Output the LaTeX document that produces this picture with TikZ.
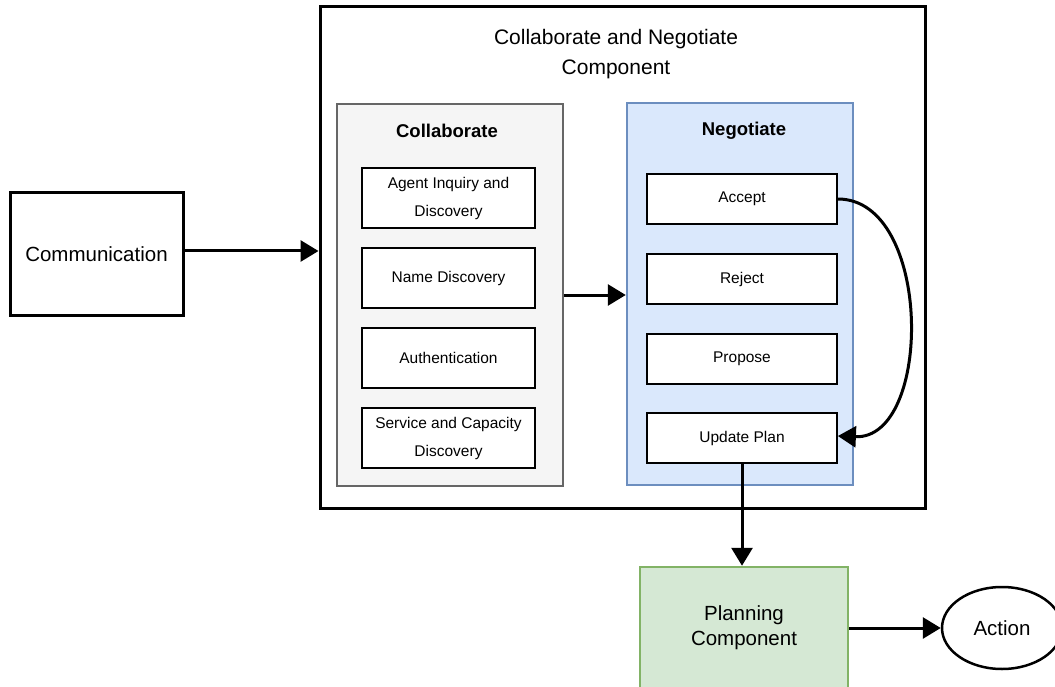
\documentclass[tikz,border=0pt]{standalone}
\usepackage{fontspec}
\setmainfont{Liberation Sans}
\usetikzlibrary{arrows.meta,shapes.geometric}
\definecolor{collabfill}{HTML}{F5F5F5}
\definecolor{collabdraw}{HTML}{666666}
\definecolor{negfill}{HTML}{DAE8FC}
\definecolor{negdraw}{HTML}{6C8EBF}
\definecolor{planfill}{HTML}{D5E8D4}
\definecolor{plandraw}{HTML}{82B366}
\definecolor{ink}{HTML}{1A1A1A}
\tikzset{
  box/.style={draw, rectangle, inner sep=0pt, align=center},
  item/.style={box, fill=white, line width=1.8pt, minimum width=173pt, minimum height=60pt,
    font=\fontsize{15.5}{28}\selectfont},
  negitem/.style={box, fill=white, line width=1.8pt, minimum width=190pt, minimum height=50pt,
    font=\fontsize{15.5}{28}\selectfont},
  big/.style={font=\fontsize{20.5}{25}\selectfont},
  grouptitle/.style={font=\bfseries\fontsize{18.5}{22}\selectfont},
  conn/.style={line width=3pt, -{Triangle[length=18pt,width=21pt]}},
}
\begin{document}
\begin{tikzpicture}[x=1pt,y=-1pt]
\useasboundingbox (0,0) rectangle (1055,687);
% outer component
\node[box, line width=3pt, minimum width=605pt, minimum height=501pt] (outer) at (622.5,257.5) {};
\node[align=center, font=\fontsize{21}{30}\selectfont] (title) at (616,54) {Collaborate and Negotiate\\Component};
% collaborate group
\node[box, fill=collabfill, draw=collabdraw, line width=2.5pt, minimum width=226pt, minimum height=382pt] (collab) at (450,295) {};
\node[grouptitle] (collabT) at (447,131) {Collaborate};
\node[item] (agent) at (448.5,198) {Agent Inquiry and\\Discovery};
\node[item] (name) at (448.5,278) {Name Discovery};
\node[item] (auth) at (448.5,358) {Authentication};
\node[item] (serv) at (448.5,438) {Service and Capacity\\Discovery};
% negotiate group
\node[box, fill=negfill, draw=negdraw, line width=2.5pt, minimum width=226pt, minimum height=382pt] (neg) at (740,294) {};
\node[grouptitle] (negT) at (744,131) {Negotiate};
\node[negitem] (acc) at (742,199) {Accept};
\node[negitem] (rej) at (742,279) {Reject};
\node[negitem] (prop) at (742,359) {Propose};
\node[negitem] (upd) at (742,438) {Update Plan};
% external
\node[box, line width=3pt, minimum width=173pt, minimum height=122pt, big] (comm) at (96.5,254) {Communication};
\node[box, fill=planfill, draw=plandraw, line width=2.5pt, minimum width=208pt, minimum height=122pt, big] (plan) at (744,628) {Planning\\Component};
\node[draw, ellipse, line width=2.5pt, inner sep=0pt, minimum width=120pt, minimum height=82pt, big] (act) at (1002,628) {Action};
% connectors
\draw[conn] ([yshift=3pt]comm.east) -- ([yshift=3pt]comm.east -| outer.west);
\draw[conn] (collab.east) -- (collab.east -| neg.west);
\draw[conn] (acc.east) .. controls (933,199) and (933,440) .. ([yshift=2pt]upd.east);
\draw[conn] (upd.south) -- (upd.south |- plan.north);
\draw[conn] (plan.east) -- (act.west);
\end{tikzpicture}
\end{document}
